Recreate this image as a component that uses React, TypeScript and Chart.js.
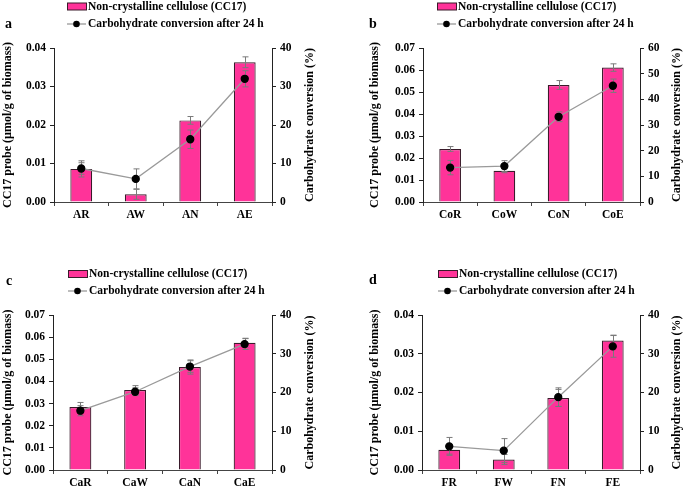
import React, { useEffect, useRef } from 'react';
import { Chart, registerables } from 'chart.js';
Chart.register(...registerables);

// ---- Data ----
const catsA = ['AR', 'AW', 'AN', 'AE'];
const barA = [0.0086, 0.0020, 0.0212, 0.0363];
const barErrA = [0.0021, 0.0013, 0.0010, 0.0014];
const lineA = [8.7, 6.0, 16.3, 32.0];
const lineErrA = [1.5, 2.6, 2.4, 2.1];

const catsB = ['CoR', 'CoW', 'CoN', 'CoE'];
const barB = [0.0241, 0.0142, 0.0532, 0.0611];
const barErrB = [0.0011, 0.0009, 0.0020, 0.0017];
const lineB = [13.4, 14.0, 33.2, 45.3];
const lineErrB = [2.8, 2.1, 1.9, 2.6];

const catsC = ['CaR', 'CaW', 'CaN', 'CaE'];
const barC = [0.0284, 0.0361, 0.0465, 0.0575];
const barErrC = [0.0021, 0.0020, 0.0032, 0.0020];
const lineC = [15.3, 20.2, 26.7, 32.5];
const lineErrC = [1.3, 1.0, 1.5, 1.4];

const catsD = ['FR', 'FW', 'FN', 'FE'];
const barD = [0.0052, 0.0027, 0.0186, 0.0334];
const barErrD = [0.0011, 0.0013, 0.0022, 0.0014];
const lineD = [6.1, 5.0, 18.8, 31.9];
const lineErrD = [2.3, 3.1, 2.4, 2.8];

const leftTicksA = { max: 0.04, step: 0.01 };
const leftTicksB = { max: 0.07, step: 0.01 };
const leftTicksC = { max: 0.07, step: 0.01 };
const leftTicksD = { max: 0.04, step: 0.01 };
const rightMaxA = 40;
const rightMaxB = 60;
const rightMaxC = 40;
const rightMaxD = 40;

const barLabel = 'Non-crystalline cellulose (CC17)';
const lineLabel = 'Carbohydrate conversion after 24 h';
const leftTitle = 'CC17 probe (µmol/g of biomass)';
const rightTitle = 'Carbohydrate conversion (%)';

const FONT = "'Liberation Serif', 'Times New Roman', serif";
const PINK = '#FF3399';
const BAR_BORDER = '#3a1a2a';
const LINE_GREY = '#9a9a9a';
const ERR_GREY = '#7a7a7a';

type Panel = {
  x: number; y: number; w: number; h: number;
  left: number; right: number; top: number; bottom: number;
  cats: string[]; bar: number[]; barErr: number[]; line: number[]; lineErr: number[];
  lmax: number; lstep: number; rmax: number;
  letter: string; letterX: number; letterY: number;
  legX: number; legY1: number; legY2: number;
  ltX: number; rtX: number;
};

const panels: Panel[] = [
  { x: 0, y: 0, w: 342, h: 244, left: 54, right: 272, top: 48, bottom: 202,
    cats: catsA, bar: barA, barErr: barErrA, line: lineA, lineErr: lineErrA,
    lmax: leftTicksA.max, lstep: leftTicksA.step, rmax: rightMaxA,
    letter: 'a', letterX: 5, letterY: 24, legX: 67, legY1: 6.5, legY2: 24, ltX: 8, rtX: 310 },
  { x: 342, y: 0, w: 343, h: 244, left: 81, right: 298, top: 48, bottom: 202,
    cats: catsB, bar: barB, barErr: barErrB, line: lineB, lineErr: lineErrB,
    lmax: leftTicksB.max, lstep: leftTicksB.step, rmax: rightMaxB,
    letter: 'b', letterX: 27, letterY: 24, legX: 95, legY1: 6.5, legY2: 24, ltX: 33, rtX: 335 },
  { x: 0, y: 244, w: 342, h: 244, left: 53, right: 272, top: 71, bottom: 226,
    cats: catsC, bar: barC, barErr: barErrC, line: lineC, lineErr: lineErrC,
    lmax: leftTicksC.max, lstep: leftTicksC.step, rmax: rightMaxC,
    letter: 'c', letterX: 6, letterY: 37, legX: 68, legY1: 30, legY2: 47, ltX: 8, rtX: 310 },
  { x: 342, y: 244, w: 343, h: 244, left: 80, right: 298, top: 71, bottom: 226,
    cats: catsD, bar: barD, barErr: barErrD, line: lineD, lineErr: lineErrD,
    lmax: leftTicksD.max, lstep: leftTicksD.step, rmax: rightMaxD,
    letter: 'd', letterX: 27, letterY: 36, legX: 96, legY1: 30, legY2: 47, ltX: 33, rtX: 335 },
];

function drawErr(ctx: CanvasRenderingContext2D, x: number, y1: number, y2: number) {
  ctx.beginPath();
  ctx.moveTo(x, y1); ctx.lineTo(x, y2);
  ctx.moveTo(x - 3, y1); ctx.lineTo(x + 3, y1);
  ctx.moveTo(x - 3, y2); ctx.lineTo(x + 3, y2);
  ctx.stroke();
}

function makePlugin(p: Panel) {
  return {
    id: 'custom' + p.letter,
    beforeDatasetDraw(chart: any, args: any) {
      if (args.index !== 1) return;
      const ctx = chart.ctx; const ys = chart.scales.y1; const xs = chart.scales.x;
      ctx.save(); ctx.strokeStyle = ERR_GREY; ctx.lineWidth = 1;
      p.line.forEach((v, i) => {
        const x = Math.round(xs.getPixelForValue(i)) + 0.5;
        drawErr(ctx, x, ys.getPixelForValue(v + p.lineErr[i]), ys.getPixelForValue(v - p.lineErr[i]));
      });
      ctx.restore();
    },
    afterDatasetDraw(chart: any, args: any) {
      if (args.index !== 0) return;
      const ctx = chart.ctx; const ys = chart.scales.y; const xs = chart.scales.x;
      ctx.save(); ctx.strokeStyle = ERR_GREY; ctx.lineWidth = 1;
      p.bar.forEach((v, i) => {
        const x = Math.round(xs.getPixelForValue(i)) + 0.5;
        drawErr(ctx, x, ys.getPixelForValue(v + p.barErr[i]), ys.getPixelForValue(Math.max(0, v - p.barErr[i])));
      });
      ctx.restore();
    },
    afterDraw(chart: any) {
      const ctx = chart.ctx;
      const a = chart.chartArea;
      const cy = (a.top + a.bottom) / 2;
      ctx.save();
      ctx.fillStyle = '#000';
      ctx.textBaseline = 'middle';
      ctx.font = `bold 12px ${FONT}`;
      ctx.textAlign = 'center';
      // left title
      ctx.save(); ctx.translate(p.ltX, cy); ctx.rotate(-Math.PI / 2);
      ctx.fillText(leftTitle, 0, 0); ctx.restore();
      // right title
      ctx.save(); ctx.translate(p.rtX, cy); ctx.rotate(-Math.PI / 2);
      ctx.fillText(rightTitle, 0, 0); ctx.restore();
      // panel letter
      ctx.textAlign = 'left';
      ctx.font = `bold 14px ${FONT}`;
      ctx.fillText(p.letter, p.letterX, p.letterY);
      // legend
      ctx.font = `bold 11.5px ${FONT}`;
      ctx.fillStyle = PINK; ctx.fillRect(p.legX, p.legY1 - 3.5, 19, 7);
      ctx.strokeStyle = BAR_BORDER; ctx.lineWidth = 1;
      ctx.strokeRect(p.legX + 0.5, p.legY1 - 3.5, 19, 7);
      ctx.fillStyle = '#000';
      ctx.fillText(barLabel, p.legX + 21, p.legY1 + 0.5);
      ctx.strokeStyle = LINE_GREY; ctx.lineWidth = 1.3;
      ctx.beginPath(); ctx.moveTo(p.legX, p.legY2); ctx.lineTo(p.legX + 19, p.legY2); ctx.stroke();
      ctx.beginPath(); ctx.arc(p.legX + 9.5, p.legY2, 3.3, 0, Math.PI * 2); ctx.fill();
      ctx.fillText(lineLabel, p.legX + 21, p.legY2 + 0.5);
      ctx.restore();
    },
  };
}

function PanelChart({ p }: { p: Panel }) {
  const ref = useRef<HTMLCanvasElement>(null);
  useEffect(() => {
    if (!ref.current) return;
    const tickFont = { family: FONT, size: 11.5, weight: 'bold' as const };
    const chart = new Chart(ref.current, {
      type: 'bar',
      data: {
        labels: p.cats,
        datasets: [
          { type: 'bar', label: barLabel, data: p.bar, yAxisID: 'y', backgroundColor: PINK,
            borderColor: BAR_BORDER, borderWidth: 1.2, barPercentage: 0.4, categoryPercentage: 1, order: 2 } as any,
          { type: 'line', label: lineLabel, data: p.line, yAxisID: 'y1', borderColor: LINE_GREY,
            borderWidth: 1.3, pointBackgroundColor: '#000', pointBorderColor: '#000', pointRadius: 3.5,
            tension: 0, order: 1 } as any,
        ],
      },
      options: {
        responsive: false,
        animation: false,
        devicePixelRatio: 1,
        layout: { padding: { top: p.top, left: 0, right: 0, bottom: 0 } },
        plugins: { legend: { display: false }, tooltip: { enabled: false }, title: { display: false } },
        scales: {
          x: {
            type: 'category', offset: true,
            grid: { offset: true, drawOnChartArea: false, tickLength: 4, color: '#444' },
            border: { color: '#444', width: 1 },
            ticks: { font: tickFont, color: '#000', padding: 2 },
            afterFit: (s: any) => { s.height = p.h - p.bottom; },
          },
          y: {
            position: 'left', min: 0, max: p.lmax,
            grid: { drawOnChartArea: false, tickLength: 4, color: '#222' },
            border: { color: '#222', width: 1 },
            ticks: { stepSize: p.lstep, font: tickFont, color: '#000', padding: 4,
              callback: (v: any) => Number(v).toFixed(2) },
            afterFit: (s: any) => { s.width = p.left; },
          },
          y1: {
            position: 'right', min: 0, max: p.rmax,
            grid: { drawOnChartArea: false, tickLength: 4, color: '#222' },
            border: { color: '#222', width: 1 },
            ticks: { stepSize: 10, font: tickFont, color: '#000', padding: 4 },
            afterFit: (s: any) => { s.width = p.w - p.right; },
          },
        },
      } as any,
      plugins: [makePlugin(p)],
    });
    return () => chart.destroy();
  }, []);
  return (
    <canvas ref={ref} width={p.w} height={p.h}
      style={{ position: 'absolute', left: p.x, top: p.y, width: p.w, height: p.h }} />
  );
}

export default function App() {
  return (
    <div style={{ position: 'fixed', left: 0, top: 0, width: 685, height: 488, background: '#fff' }}>
      {panels.map((p) => <PanelChart key={p.letter} p={p} />)}
    </div>
  );
}
